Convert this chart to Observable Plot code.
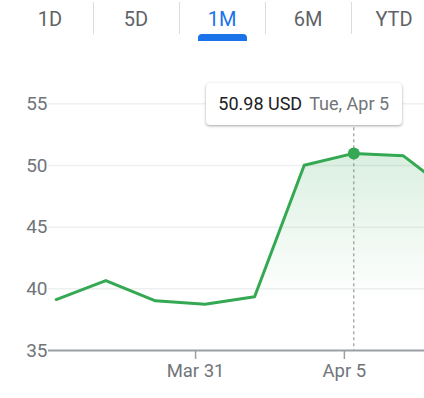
<!DOCTYPE html>
<html>
<head>
<meta charset="utf-8">
<script src="https://cdn.jsdelivr.net/npm/d3@7"></script>
<script src="https://cdn.jsdelivr.net/npm/@observablehq/plot@0.6"></script>
<style>
  html, body { margin: 0; padding: 0; background: #fff; overflow: hidden; }
  #root { position: relative; width: 424px; height: 398px; font-family: Roboto, "Noto Sans", sans-serif; overflow: hidden; }
  #tabs { position: absolute; left: 7px; top: 0; height: 42px; white-space: nowrap; }
  .tab { position: absolute; top: 0; width: 86px; text-align: center; font-size: 20px; line-height: 20px; padding-top: 9px; color: #5f6368; }
  .tab.sel { color: #1a73e8; }
  .sep { position: absolute; top: 2px; width: 1px; height: 32px; background: #dadce0; }
  .bar { position: absolute; top: 34px; height: 7px; width: 49px; background: #1a73e8; border-radius: 4px 4px 0 0; }
  #chart { position: absolute; left: 0; top: 50px; }
  #tip { position: absolute; top: 83px; width: 196px; height: 42px; box-sizing: border-box; background: #fff; border-radius: 4px;
         box-shadow: 0 1px 3px rgba(60,64,67,0.35), 0 1px 2px rgba(60,64,67,0.15); font-size: 18px; line-height: 42px; padding-left: 12px; white-space: nowrap; }
  #tip .p { color: #202124; }
  #tip .d { color: #70757a; margin-left: 7px; }
</style>
</head>
<body>
<div id="root">
  <div id="tabs"></div>
  <div id="chart"></div>
  <div id="tip"></div>
</div>
<script>
// ---- data ----
const tabs = ["1D", "5D", "1M", "6M", "YTD"];
const selectedTab = "1M";
const dates = ["Mar 28", "Mar 29", "Mar 30", "Mar 31", "Apr 1", "Apr 4", "Apr 5", "Apr 6", "Apr 7"];
const prices = [39.13, 40.67, 39.03, 38.75, 39.35, 50.02, 50.98, 50.78, 47.7];
const yTicks = [35, 40, 45, 50, 55];
const xTickLabels = ["Mar 31", "Apr 5"];
const selectedDate = "Apr 5";
const tooltipPrice = "50.98 USD";
const tooltipDate = "Tue, Apr 5";

// ---- tabs ----
const tabsEl = document.getElementById("tabs");
tabs.forEach((t, i) => {
  const d = document.createElement("div");
  d.className = "tab" + (t === selectedTab ? " sel" : "");
  d.style.left = (i * 86) + "px";
  d.textContent = t;
  tabsEl.appendChild(d);
  if (i > 0) {
    const s = document.createElement("div");
    s.className = "sep";
    s.style.left = (i * 86 - 0.5) + "px";
    tabsEl.appendChild(s);
  }
  if (t === selectedTab) {
    const b = document.createElement("div");
    b.className = "bar";
    b.style.left = (i * 86 + 43 - 24.5) + "px";
    tabsEl.appendChild(b);
  }
});

// ---- chart ----
const data = dates.map((d, i) => ({i, date: d, price: prices[i]}));
const sel = data[dates.indexOf(selectedDate)];
const sessionOffset = -0.19; // ticks sit at day start, points at close
const tickPos = xTickLabels.map(l => dates.indexOf(l) + sessionOffset);
const tickLabel = new Map(tickPos.map((p, k) => [p, xTickLabels[k]]));

const gradient = () => {
  const defs = d3.create("svg:defs");
  const g = defs.append("linearGradient").attr("id", "areaGrad")
    .attr("x1", 0).attr("x2", 0).attr("y1", 0).attr("y2", 1);
  g.append("stop").attr("offset", "0%").attr("stop-color", "#34a853").attr("stop-opacity", 0.18);
  g.append("stop").attr("offset", "75%").attr("stop-color", "#34a853").attr("stop-opacity", 0);
  return defs.node();
};

const plot = Plot.plot({
  width: 424,
  height: 348,
  marginLeft: 48,
  marginRight: 0,
  marginTop: 53.3,
  marginBottom: 48,
  style: {fontFamily: "Roboto, sans-serif", background: "transparent", overflow: "hidden"},
  x: {domain: [-0.155, 7.425], axis: null, label: null},
  y: {domain: [35, 55], axis: null, label: null},
  marks: [
    gradient,
    Plot.gridY(yTicks.filter(d => d > 35), {stroke: "#eeeff0", strokeOpacity: 1, strokeWidth: 1.5}),
    Plot.areaY(data, {x: "i", y1: 35, y2: "price", fill: "url(#areaGrad)", clip: true}),
    Plot.ruleX([sel], {x: "i", stroke: "#80868b", strokeDasharray: "3,3", strokeWidth: 1}),
    Plot.ruleY([35], {stroke: "#9aa0a6", strokeWidth: 2}),
    Plot.axisX(tickPos, {tickSize: 9, tickPadding: 4, tickFormat: d => tickLabel.get(d), fontSize: 18.5,
      stroke: "#9aa0a6", strokeWidth: 1.5, fill: "#70757a", label: null}),
    Plot.axisY(yTicks, {tickSize: 0, tickPadding: 1, fontSize: 19, fill: "#70757a", label: null}),
    Plot.lineY(data, {x: "i", y: "price", stroke: "#34a853", strokeWidth: 3, clip: true}),
    Plot.dot([sel], {x: "i", y: "price", r: 6, fill: "#34a853"})
  ]
});
document.getElementById("chart").appendChild(plot);

// ---- tooltip ----
const tip = document.getElementById("tip");
tip.innerHTML = `<span class="p"></span><span class="d"></span>`;
tip.querySelector(".p").textContent = tooltipPrice;
tip.querySelector(".d").textContent = tooltipDate;
const px = plot.scale("x").apply(sel.i);
tip.style.left = (px - 147) + "px";
</script>
</body>
</html>
